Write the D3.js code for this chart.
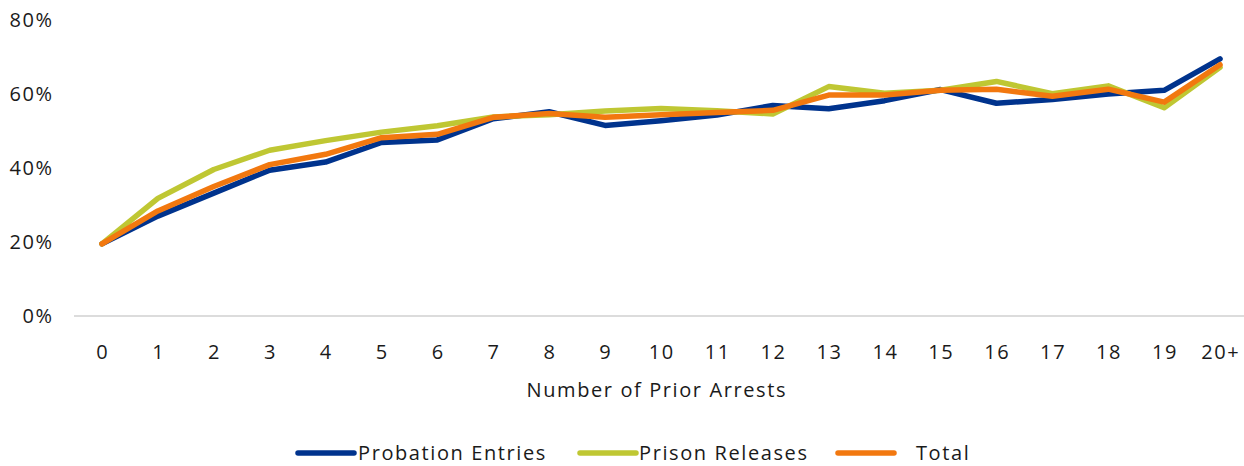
<!DOCTYPE html>
<html><head><meta charset="utf-8">
<script src="https://cdn.jsdelivr.net/npm/d3@7"></script>
<style>body{margin:0;background:#fff}svg{display:block}text{font-family:"Open Sans",sans-serif;fill:#1a1a1a;letter-spacing:1.6px}</style>
</head><body><svg id="c" width="1244" height="466"></svg>
<script>
const categories = ["0","1","2","3","4","5","6","7","8","9","10","11","12","13","14","15","16","17","18","19","20+"];
const probationEntries = [19.5,27.0,33.2,39.4,41.6,46.9,47.6,53.3,55.2,51.5,52.8,54.3,56.9,56.0,58.2,61.2,57.5,58.5,60.0,61.0,69.5];
const prisonReleases  = [19.5,31.8,39.6,44.8,47.4,49.7,51.4,53.8,54.4,55.4,56.1,55.5,54.6,62.0,60.2,61.0,63.4,60.1,62.2,56.3,67.2];
const total           = [19.5,28.4,35.0,40.9,43.7,48.2,49.1,53.7,54.7,53.7,54.4,55.0,55.6,59.7,59.7,61.0,61.3,59.4,61.3,57.8,67.9];
const yTicks = [0,20,40,60,80];
const seriesNames = ["Probation Entries","Prison Releases","Total"];
const colors = ["#00338D","#BFC733","#F2780F"];

const svg = d3.select("#c");
const x = d3.scaleBand().domain(categories).range([74, 1248]);
const y = d3.scaleLinear().domain([0, 80]).range([316, 20]);
const cx = d => x(d) + x.bandwidth()/2;

svg.append("g").selectAll("text").data(yTicks).join("text")
  .attr("x", 53.6).attr("y", d => y(d)).attr("dy", "0.35em")
  .attr("text-anchor","end").attr("font-size", 20).text(d => d + "%");

svg.append("line").attr("x1", 74).attr("x2", 1244).attr("y1", y(0)).attr("y2", y(0))
  .attr("stroke", "#d0d0d0").attr("stroke-width", 1.3);
svg.append("g").selectAll("text").data(categories).join("text")
  .attr("x", d => cx(d) + 0.8).attr("y", 352).attr("dy","0.35em")
  .attr("text-anchor","middle").attr("font-size", 20).text(d => d);
svg.append("text").attr("x", 656.8).attr("y", 390).attr("dy","0.35em")
  .attr("text-anchor","middle").attr("font-size", 20).text("Number of Prior Arrests");

const data = [probationEntries, prisonReleases, total];
const line = d3.line().x((d,i) => cx(categories[i])).y(d => y(d));
data.forEach((s, k) => {
  svg.append("path").attr("d", line(s)).attr("fill","none")
    .attr("stroke", colors[k]).attr("stroke-width", 5.5)
    .attr("stroke-linejoin","round").attr("stroke-linecap","round");
});

const legendX = [298, 580, 838];
const textX = [358, 639, 916];
seriesNames.forEach((n, k) => {
  svg.append("line").attr("x1", legendX[k]).attr("x2", legendX[k] + 56)
    .attr("y1", 453).attr("y2", 453).attr("stroke", colors[k])
    .attr("stroke-width", 5.5).attr("stroke-linecap","round");
  svg.append("text").attr("x", textX[k]).attr("y", 453).attr("dy","0.35em")
    .attr("font-size", 20).text(n);
});
</script></body></html>
